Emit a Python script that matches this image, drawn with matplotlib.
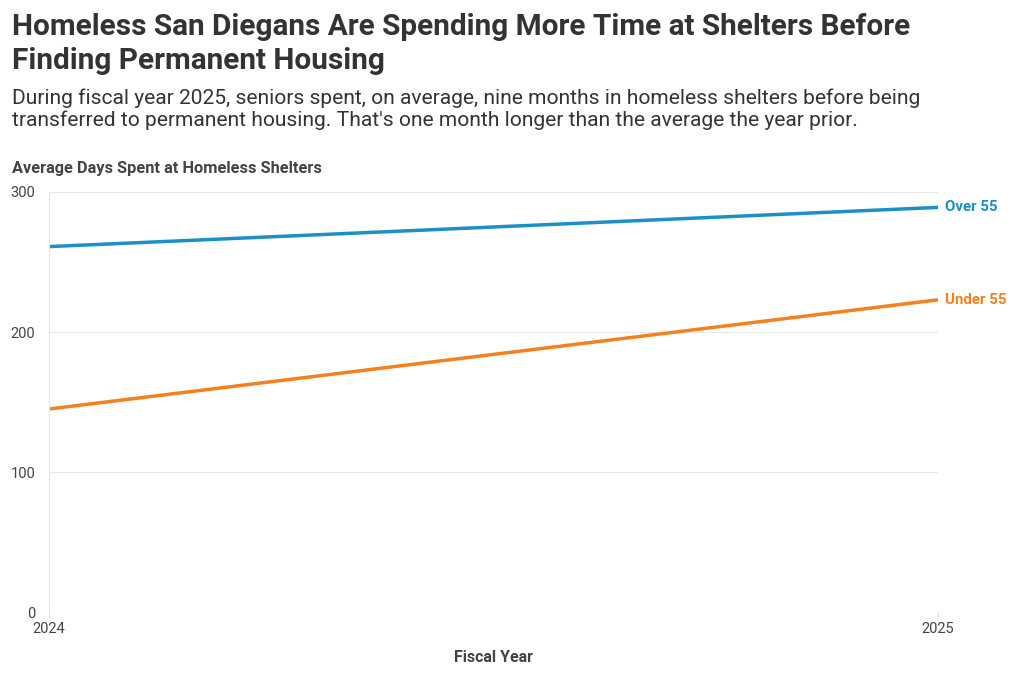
import matplotlib
matplotlib.use("Agg")
import matplotlib.pyplot as plt

years = [2024, 2025]
year_labels = ["2024", "2025"]
over_55 = [261, 289]
under_55 = [145, 223]
y_ticks = [0, 100, 200, 300]

plt.rcParams['font.family'] = ['Roboto', 'DejaVu Sans']

fig = plt.figure(figsize=(10.2, 6.85), dpi=100)
ax = fig.add_axes([49/1020, 1-612/685, (938-49)/1020, (612-192)/685])

blue = "#1b8fc6"
orange = "#f4801f"
ax.plot(years, over_55, color=blue, lw=2.5, solid_capstyle='butt')
ax.plot(years, under_55, color=orange, lw=2.5, solid_capstyle='butt')

ax.set_xlim(2024, 2025)
ax.set_ylim(0, 300)
ax.set_yticks(y_ticks)
ax.set_yticklabels([str(v) for v in y_ticks])
ax.set_xticks(years)
ax.set_xticklabels(year_labels)
ax.grid(axis='y', color="#e8e8e8", lw=0.8)
ax.set_axisbelow(True)
for s in ['top', 'right', 'bottom']:
    ax.spines[s].set_visible(False)
ax.spines['left'].set_color("#e8e8e8")
ax.tick_params(axis='y', length=0, pad=10, labelsize=10.5, labelcolor="#444444")
ax.tick_params(axis='x', length=4, color="#dddddd", pad=3, labelsize=10.5, labelcolor="#444444")

ax.text(1.008, over_55[-1], "Over 55", transform=ax.get_yaxis_transform(),
        color=blue, fontsize=10.8, fontweight='bold', va='center', ha='left')
ax.text(1.008, under_55[-1], "Under 55", transform=ax.get_yaxis_transform(),
        color=orange, fontsize=10.8, fontweight='bold', va='center', ha='left')

ax.set_xlabel("Fiscal Year", fontsize=11.5, fontweight='bold', color="#444444", labelpad=10)

fig.text(12/1020, 1-13/685, "Homeless San Diegans Are Spending More Time at Shelters Before\nFinding Permanent Housing",
         fontsize=21.4, fontweight='bold', color="#333333", va='top', ha='left', linespacing=1.28)
fig.text(12/1020, 1-88/685, "During fiscal year 2025, seniors spent, on average, nine months in homeless shelters before being\ntransferred to permanent housing. That's one month longer than the average the year prior.",
         fontsize=15.1, color="#333333", va='top', ha='left', linespacing=1.2)
fig.text(12/1020, 1-168/685, "Average Days Spent at Homeless Shelters", fontsize=11.8, fontweight='bold',
         color="#444444", va='center', ha='left')

fig.savefig("out.png", dpi=100)
